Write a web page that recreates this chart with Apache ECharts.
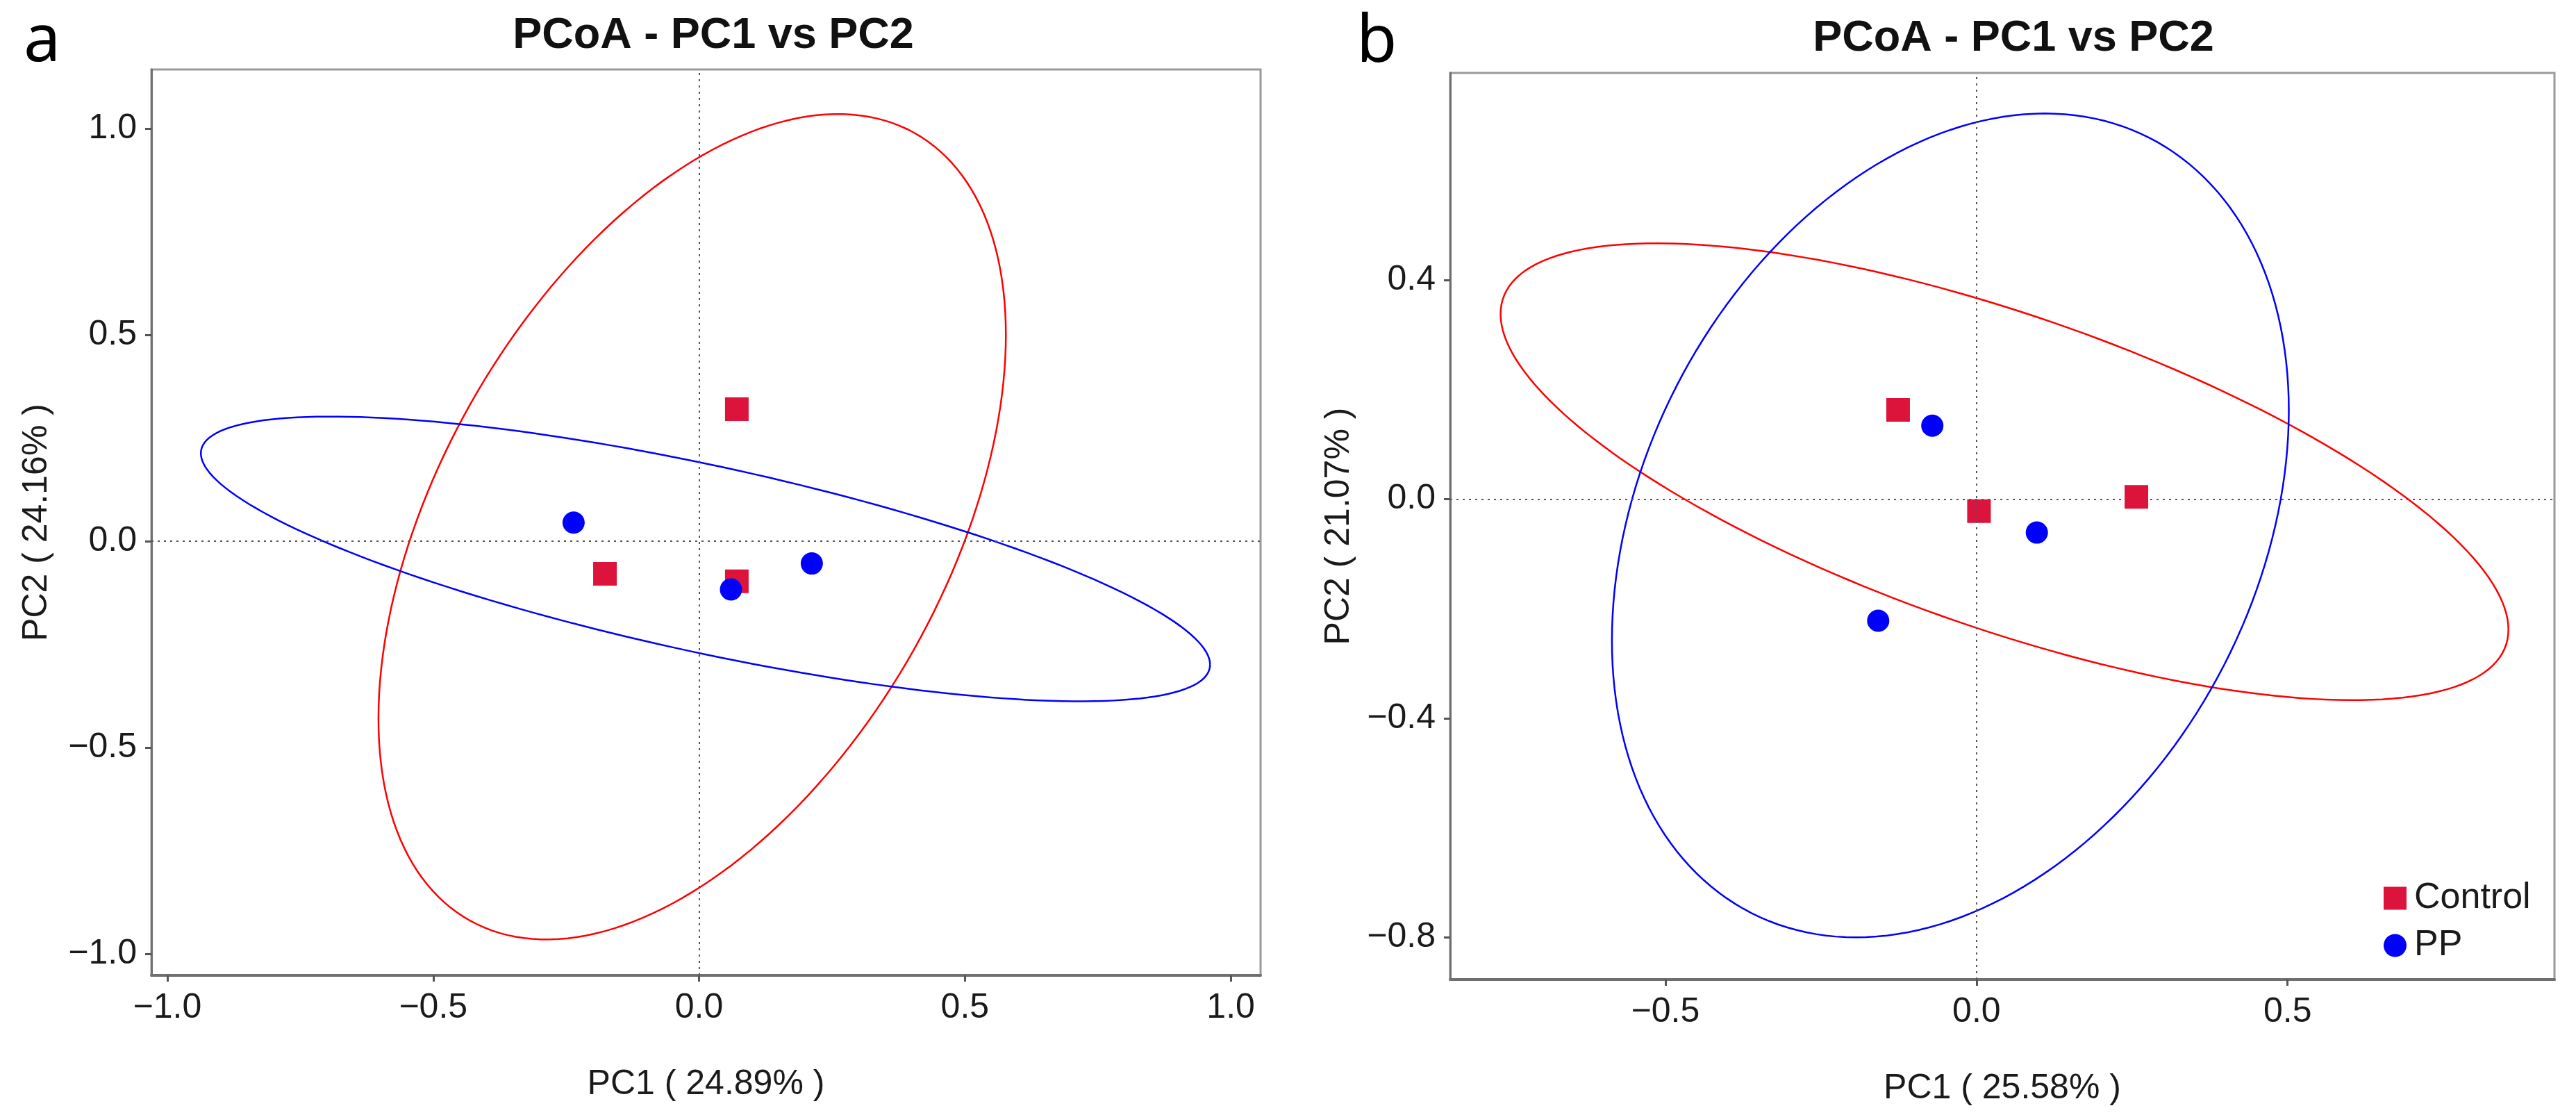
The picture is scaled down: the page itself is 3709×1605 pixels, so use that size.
<!DOCTYPE html>
<html>
<head>
<meta charset="utf-8">
<script src="https://cdn.jsdelivr.net/npm/echarts@6/dist/echarts.min.js"></script>
<style>
  html, body { margin: 0; padding: 0; background: #fff; }
  #chart { width: 3709px; height: 1605px; }
</style>
</head>
<body>
<div id="chart"></div>
<script>
// --- sample coordinates --- //
const groups = ['Control', 'PP'];

const controlA = [[0.071, 0.320], [-0.177, -0.079], [0.071, -0.097]];
const ppA = [[-0.236, 0.045], [0.212, -0.054], [0.060, -0.117]];

const controlB = [[-0.126, 0.163], [0.004, -0.022], [0.257, 0.004]];
const ppB = [[-0.071, 0.134], [0.097, -0.061], [-0.158, -0.222]];

// confidence ellipses: [centre x, centre y, half width, half height, y offset of rightmost point]
const ellipseControlA = [-0.013, 0.035, 0.590, 1.000, 0.465];
const ellipsePPA = [0.012, -0.043, 0.949, 0.345, -0.256];
const ellipseControlB = [0.045, 0.050, 0.810, 0.417, -0.288];
const ellipsePPB = [-0.042, -0.048, 0.544, 0.752, 0.210];

// axis ranges and tick labels
const xRangeA = [-1.03, 1.056];
const yRangeA = [-1.052, 1.143];
const xRangeB = [-0.846, 0.929];
const yRangeB = [-0.877, 0.778];

const xTicksA = [-1.0, -0.5, 0.0, 0.5, 1.0];
const yTicksA = [-1.0, -0.5, 0.0, 0.5, 1.0];
const xTicksB = [-0.5, 0.0, 0.5];
const yTicksB = [-0.8, -0.4, 0.0, 0.4];

const xNames = ['PC1 ( 24.89% )', 'PC1 ( 25.58% )'];
const yNames = ['PC2 ( 24.16% )', 'PC2 ( 21.07% )'];
const titles = ['PCoA - PC1 vs PC2', 'PCoA - PC1 vs PC2'];
const panelLetters = ['a', 'b'];

const RED = '#DC143C';
const BLUE = '#0000FF';
const FONT = 'Liberation Sans, Arial, sans-serif';

const fmt = v => v.toFixed(1).replace('-', '\u2212');

function makeXAxis(idx, range, ticks, name) {
  return {
    type: 'value', gridIndex: idx, min: range[0], max: range[1],
    name: name, nameLocation: 'middle', nameGap: 132,
    nameTextStyle: { fontSize: 50, color: '#1a1a1a', fontFamily: FONT },
    splitLine: { show: false },
    axisLine: { show: true, onZero: false, lineStyle: { color: '#6f6f6f', width: 4 } },
    axisTick: { show: true, length: 9, lineStyle: { color: '#555', width: 3 }, customValues: ticks },
    axisLabel: { fontSize: 50, color: '#1a1a1a', fontFamily: FONT, margin: 22, formatter: fmt, customValues: ticks }
  };
}

function makeYAxis(idx, range, ticks, name, gap) {
  return {
    type: 'value', gridIndex: idx, min: range[0], max: range[1],
    name: name, nameLocation: 'middle', nameGap: gap,
    nameTextStyle: { fontSize: 50, color: '#1a1a1a', fontFamily: FONT },
    splitLine: { show: false },
    axisLine: { show: true, onZero: false, lineStyle: { color: '#6f6f6f', width: 3 } },
    axisTick: { show: true, length: 9, lineStyle: { color: '#555', width: 3 }, customValues: ticks },
    axisLabel: { fontSize: 50, color: '#1a1a1a', fontFamily: FONT, margin: 21, formatter: fmt, customValues: ticks }
  };
}

// --- ellipse outline drawn through the axis scales --- //
function makeEllipse(params, color, idx) {
  return {
    type: 'custom', name: 'ellipse', xAxisIndex: idx, yAxisIndex: idx,
    silent: true, clip: true, z: 2,
    data: [params],
    renderItem: function (p, api) {
      const cx = api.value(0), cy = api.value(1);
      const w = api.value(2), h = api.value(3), k = api.value(4);
      const m = Math.sqrt(Math.max(h * h - k * k, 0));
      const pts = [];
      for (let i = 0; i <= 200; i++) {
        const t = i / 200 * 2 * Math.PI;
        pts.push(api.coord([cx + w * Math.cos(t), cy + k * Math.cos(t) + m * Math.sin(t)]));
      }
      return {
        type: 'polyline',
        shape: { points: pts },
        style: { stroke: color, fill: null, lineWidth: 2.5 }
      };
    }
  };
}

function makeScatter(name, data, idx, symbol, size, color, withRefLines) {
  const s = {
    type: 'scatter', name: name, xAxisIndex: idx, yAxisIndex: idx,
    data: data, symbol: symbol, symbolSize: size, z: 3,
    itemStyle: { color: color, opacity: 1 },
    emphasis: { disabled: true }
  };
  if (withRefLines) {
    s.markLine = {
      silent: true, symbol: 'none', label: { show: false },
      lineStyle: { color: '#555', width: 2, type: [3, 6] },
      data: [{ xAxis: 0 }, { yAxis: 0 }]
    };
  }
  return s;
}

const chart = echarts.init(document.getElementById('chart'));

const option = {
  backgroundColor: '#fff',
  animation: false,
  grid: [
    { left: 218, top: 100, width: 1597, height: 1304, show: true, borderColor: '#9a9a9a', borderWidth: 3 },
    { left: 2088, top: 105, width: 1590, height: 1305, show: true, borderColor: '#9a9a9a', borderWidth: 3 }
  ],
  xAxis: [
    makeXAxis(0, xRangeA, xTicksA, xNames[0]),
    makeXAxis(1, xRangeB, xTicksB, xNames[1])
  ],
  yAxis: [
    makeYAxis(0, yRangeA, yTicksA, yNames[0], 140),
    makeYAxis(1, yRangeB, yTicksB, yNames[1], 135)
  ],
  legend: {
    orient: 'vertical', left: 3427, top: 1262,
    itemWidth: 33, itemHeight: 33, itemGap: 16,
    selectedMode: false,
    textStyle: { fontSize: 52, color: '#1a1a1a', fontFamily: FONT, padding: [0, 0, 0, 6] },
    data: [{ name: groups[0], icon: 'rect' }, { name: groups[1], icon: 'circle' }]
  },
  graphic: [
    { type: 'text', x: 1027, y: 52, style: { text: titles[0], font: 'bold 63px ' + FONT, fill: '#111', align: 'center', verticalAlign: 'middle' } },
    { type: 'text', x: 2899, y: 56, style: { text: titles[1], font: 'bold 63px ' + FONT, fill: '#111', align: 'center', verticalAlign: 'middle' } },
    { type: 'text', x: 34, y: 61, style: { text: panelLetters[0], font: '95px Noto Sans', fill: '#000', align: 'left', verticalAlign: 'middle' } },
    { type: 'text', x: 1953, y: 62, style: { text: panelLetters[1], font: '95px Noto Sans', fill: '#000', align: 'left', verticalAlign: 'middle' } }
  ],
  series: [
    makeEllipse(ellipseControlA, '#FF0000', 0),
    makeEllipse(ellipsePPA, BLUE, 0),
    makeScatter(groups[0], controlA, 0, 'rect', 34, RED, true),
    makeScatter(groups[1], ppA, 0, 'circle', 32, BLUE, false),
    makeEllipse(ellipseControlB, '#FF0000', 1),
    makeEllipse(ellipsePPB, BLUE, 1),
    makeScatter(groups[0], controlB, 1, 'rect', 34, RED, true),
    makeScatter(groups[1], ppB, 1, 'circle', 32, BLUE, false)
  ]
};

chart.setOption(option);
</script>
</body>
</html>
